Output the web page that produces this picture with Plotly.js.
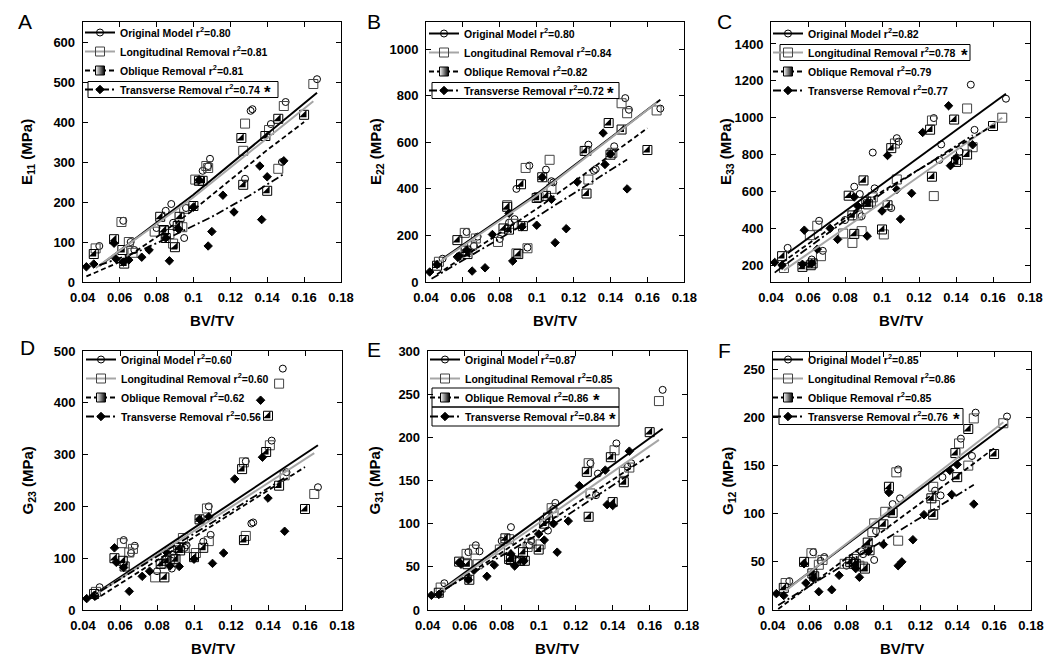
<!DOCTYPE html>
<html><head><meta charset="utf-8">
<script src="https://cdn.plot.ly/plotly-3.0.1.min.js"></script>
<style>html,body{margin:0;padding:0;background:#fff;}#chart{width:1050px;height:662px;}</style>
</head><body><div id="chart"></div>
<script>
// ---------------- DATA ----------------
const SERIES_NAMES = ["Original Model", "Longitudinal Removal", "Oblique Removal", "Transverse Removal"];
const XTICK_VALS = [0.04, 0.06, 0.08, 0.1, 0.12, 0.14, 0.16, 0.18];
const XTICK_TEXT = ["0.04", "0.06", "0.08", "0.1", "0.12", "0.14", "0.16", "0.18"];

// BV/TV of each specimen for each model
const BV_ORIG  = [0.049, 0.062, 0.066, 0.068, 0.080, 0.085, 0.088, 0.089, 0.095, 0.096, 0.105, 0.108, 0.109, 0.128, 0.131, 0.132, 0.142, 0.148, 0.150, 0.167];
const BV_LONG  = [0.047, 0.061, 0.065, 0.067, 0.079, 0.084, 0.087, 0.089, 0.094, 0.095, 0.101, 0.107, 0.108, 0.127, 0.128, 0.141, 0.146, 0.149, 0.165];
const BV_OBL   = [0.046, 0.057, 0.0615, 0.0625, 0.082, 0.084, 0.085, 0.090, 0.0915, 0.0925, 0.100, 0.103, 0.105, 0.126, 0.127, 0.139, 0.140, 0.146, 0.160];
const BV_TRANS = [0.042, 0.046, 0.057, 0.058, 0.062, 0.065, 0.072, 0.076, 0.085, 0.087, 0.092, 0.100, 0.103, 0.108, 0.110, 0.116, 0.122, 0.136, 0.137, 0.140, 0.149];

// E11 (MPa)
const E11_ORIG  = [90, 153, 100, 80, 135, 178, 195, 148, 110, 185, 278, 290, 308, 258, 428, 432, 395, 300, 450, 507];
const E11_LONG  = [84, 150, 100, 73, 126, 128, 120, 96, 137, 183, 256, 290, 285, 328, 396, 380, 283, 440, 495];
const E11_OBL   = [70, 107, 80, 46, 163, 130, 110, 87, 140, 163, 190, 253, 253, 360, 243, 365, 228, 408, 418];
const E11_TRANS = [38, 45, 97, 58, 50, 55, 62, 80, 110, 53, 132, 187, 255, 90, 126, 217, 175, 290, 156, 263, 303];
const E11_FIT_ORIG  = [[0.049, 40], [0.1, 218], [0.167, 473]];
const E11_FIT_LONG  = [[0.047, 35], [0.1, 212], [0.165, 452]];
const E11_FIT_OBL   = [[0.042, 14], [0.06, 50], [0.08, 112], [0.1, 180], [0.12, 255], [0.14, 330], [0.16, 400]];
const E11_FIT_TRANS = [[0.049, 42], [0.07, 76], [0.09, 118], [0.11, 163], [0.13, 215], [0.149, 270]];
const E11_R2 = ["0.80", "0.81", "0.81", "0.74"];
const E11_YTICKS = [0, 100, 200, 300, 400, 500, 600];

// E22 (MPa)
const E22_ORIG  = [100, 215, 155, 195, 185, 255, 270, 400, 148, 500, 483, 433, 428, 590, 478, 485, 583, 790, 740, 745];
const E22_LONG  = [87, 211, 157, 187, 172, 330, 250, 123, 490, 145, 365, 525, 400, 563, 440, 555, 768, 725, 737];
const E22_OBL   = [70, 180, 135, 120, 230, 323, 225, 120, 420, 240, 361, 450, 370, 563, 380, 683, 547, 655, 567];
const E22_TRANS = [43, 75, 108, 112, 137, 47, 61, 204, 295, 90, 237, 244, 450, 355, 169, 229, 430, 640, 505, 550, 400];
const E22_FIT_ORIG  = [[0.049, 100], [0.1, 378], [0.167, 783]];
const E22_FIT_LONG  = [[0.047, 85], [0.1, 372], [0.165, 770]];
const E22_FIT_OBL   = [[0.046, 33], [0.1, 314], [0.16, 661]];
const E22_FIT_TRANS = [[0.043, 14], [0.1, 280], [0.149, 526]];
const E22_R2 = ["0.80", "0.84", "0.82", "0.72"];
const E22_YTICKS = [0, 200, 400, 600, 800, 1000];

// E33 (MPa)
const E33_ORIG  = [294, 231, 441, 278, 445, 626, 586, 466, 811, 617, 510, 889, 870, 998, 771, 855, 816, 1179, 934, 1103];
const E33_LONG  = [185, 363, 414, 249, 372, 321, 470, 385, 545, 568, 367, 860, 665, 985, 575, 770, 1050, 840, 1000];
const E33_OBL   = [249, 191, 200, 210, 577, 470, 370, 660, 545, 530, 394, 525, 835, 935, 680, 990, 760, 800, 955];
const E33_TRANS = [215, 200, 205, 390, 210, 287, 400, 340, 570, 520, 358, 494, 795, 610, 450, 590, 920, 1065, 740, 782, 853];
const E33_FIT_ORIG  = [[0.049, 265], [0.167, 1130]];
const E33_FIT_LONG  = [[0.047, 172], [0.1, 540], [0.165, 1000]];
const E33_FIT_OBL   = [[0.046, 215], [0.1, 600], [0.16, 958]];
const E33_FIT_TRANS = [[0.042, 160], [0.1, 590], [0.149, 905]];
const E33_R2 = ["0.82", "0.78", "0.79", "0.77"];
const E33_YTICKS = [200, 400, 600, 800, 1000, 1200, 1400];

// G23 (MPa)
const G23_ORIG  = [44, 135, 110, 124, 75, 100, 80, 107, 120, 125, 132, 200, 145, 287, 167, 169, 327, 466, 266, 237];
const G23_LONG  = [35, 129, 111, 118, 63, 90, 97, 99, 139, 120, 110, 196, 133, 285, 143, 318, 437, 260, 224];
const G23_OBL   = [31, 100, 95, 84, 89, 63, 95, 98, 120, 115, 102, 175, 120, 272, 135, 305, 375, 240, 195];
const G23_TRANS = [22, 28, 120, 92, 82, 36, 65, 75, 112, 85, 84, 98, 175, 180, 90, 110, 253, 405, 295, 216, 152];
const G23_FIT_ORIG  = [[0.049, 37], [0.167, 318]];
const G23_FIT_LONG  = [[0.047, 30], [0.165, 303]];
const G23_FIT_OBL   = [[0.046, 19], [0.16, 276]];
const G23_FIT_TRANS = [[0.042, 20], [0.149, 255]];
const G23_R2 = ["0.60", "0.60", "0.62", "0.56"];
const G23_YTICKS = [0, 100, 200, 300, 400, 500];

// G31 (MPa)
const G31_ORIG  = [31, 67, 75, 68, 80, 96, 57, 57, 75, 80, 92, 117, 124, 170, 133, 158, 193, 166, 170, 255];
const G31_LONG  = [26, 65, 70, 53, 70, 82, 57, 57, 73, 77, 76, 118, 113, 170, 135, 185, 160, 165, 242];
const G31_OBL   = [20, 56, 53, 35, 83, 59, 58, 57, 67, 57, 70, 100, 107, 160, 108, 177, 125, 148, 206];
const G31_TRANS = [17, 18, 55, 53, 35, 46, 39, 52, 65, 51, 57, 88, 81, 100, 67, 103, 144, 162, 122, 121, 184];
const G31_FIT_ORIG  = [[0.049, 26], [0.167, 210]];
const G31_FIT_LONG  = [[0.047, 22], [0.165, 197]];
const G31_FIT_OBL   = [[0.046, 19], [0.16, 179]];
const G31_FIT_TRANS = [[0.042, 15], [0.1, 88], [0.149, 157]];
const G31_R2 = ["0.87", "0.85", "0.86", "0.84"];
const G31_YTICKS = [0, 50, 100, 150, 200, 250, 300];

// G12 (MPa)
const G12_ORIG  = [30, 60, 51, 55, 46, 57, 61, 58, 52, 82, 110, 146, 116, 124, 119, 138, 178, 160, 205, 201];
const G12_LONG  = [28, 59, 47, 52, 48, 53, 46, 45, 81, 90, 102, 143, 72, 128, 109, 173, 150, 199, 194];
const G12_OBL   = [23, 50, 38, 35, 50, 48, 48, 43, 70, 62, 89, 128, 101, 116, 99, 163, 138, 188, 162];
const G12_TRANS = [17, 15, 48, 28, 33, 19, 21, 36, 43, 34, 61, 68, 122, 46, 50, 73, 99, 145, 120, 151, 110];
const G12_FIT_ORIG  = [[0.048, 22], [0.167, 193]];
const G12_FIT_LONG  = [[0.047, 20], [0.165, 195]];
const G12_FIT_OBL   = [[0.043, 1], [0.16, 168]];
const G12_FIT_TRANS = [[0.043, 5], [0.149, 130]];
const G12_R2 = ["0.85", "0.86", "0.85", "0.76"];
const G12_YTICKS = [0, 50, 100, 150, 200, 250];

// ---------------- LAYOUT / STYLE ----------------
const W = 1050, H = 662;
const px = v => v / W, py = v => 1 - v / H;
const FONT = 'Liberation Sans, Arial, sans-serif';
const LEG_FONT = 'Liberation Sans, Arial, sans-serif';
const ROW0 = 14.5, ROWH = 19;

const PANELS = [
  {letter:'A', ylab:'E', sub:'11', ys:[E11_ORIG,E11_LONG,E11_OBL,E11_TRANS], fits:[E11_FIT_ORIG,E11_FIT_LONG,E11_FIT_OBL,E11_FIT_TRANS], r2:E11_R2, ytv:E11_YTICKS,
   xd:[82.7,341], yd:[22,282], yr:[0,650], leg:[80,18], ttlX:28, xTtlY:320, let:[25,21], boxes:[{rows:[3], x:[88,278]}], stars:[{row:3, x:267}]},
  {letter:'B', ylab:'E', sub:'22', ys:[E22_ORIG,E22_LONG,E22_OBL,E22_TRANS], fits:[E22_FIT_ORIG,E22_FIT_LONG,E22_FIT_OBL,E22_FIT_TRANS], r2:E22_R2, ytv:E22_YTICKS,
   xd:[426,684.3], yd:[22,282], yr:[0,1117], leg:[424,19], ttlX:377, xTtlY:320, let:[374,21], boxes:[{rows:[3], x:[432,619]}], stars:[{row:3, x:610}]},
  {letter:'C', ylab:'E', sub:'33', ys:[E33_ORIG,E33_LONG,E33_OBL,E33_TRANS], fits:[E33_FIT_ORIG,E33_FIT_LONG,E33_FIT_OBL,E33_FIT_TRANS], r2:E33_R2, ytv:E33_YTICKS,
   xd:[771,1030], yd:[22,282], yr:[109,1519], leg:[768,19], ttlX:727, xTtlY:320, let:[724,21], boxes:[{rows:[1], x:[780,970]}], stars:[{row:1, x:964}]},
  {letter:'D', ylab:'G', sub:'23', ys:[G23_ORIG,G23_LONG,G23_OBL,G23_TRANS], fits:[G23_FIT_ORIG,G23_FIT_LONG,G23_FIT_OBL,G23_FIT_TRANS], r2:G23_R2, ytv:G23_YTICKS,
   xd:[83,342], yd:[351,610], yr:[0,500], leg:[81,345], ttlX:28, xTtlY:648, let:[27,348], boxes:[], stars:[]},
  {letter:'E', ylab:'G', sub:'31', ys:[G31_ORIG,G31_LONG,G31_OBL,G31_TRANS], fits:[G31_FIT_ORIG,G31_FIT_LONG,G31_FIT_OBL,G31_FIT_TRANS], r2:G31_R2, ytv:G31_YTICKS,
   xd:[427.7,686.7], yd:[351,610], yr:[0,300], leg:[425,345], ttlX:375, xTtlY:648, let:[374,349], boxes:[{rows:[2,3], x:[432,619]}], stars:[{row:2, x:596},{row:3, x:612}]},
  {letter:'F', ylab:'G', sub:'12', ys:[G12_ORIG,G12_LONG,G12_OBL,G12_TRANS], fits:[G12_FIT_ORIG,G12_FIT_LONG,G12_FIT_OBL,G12_FIT_TRANS], r2:G12_R2, ytv:G12_YTICKS,
   xd:[772.7,1031], yd:[352,610], yr:[0,268], leg:[768,345], ttlX:728, xTtlY:648, let:[724,350], boxes:[{rows:[3], x:[779,963]}], stars:[{row:3, x:956}]}
];

const XS = [BV_ORIG, BV_LONG, BV_OBL, BV_TRANS];
const STY = [
  {sym:'circle-open', size:7, mcol:'#000', lcol:'#000', dash:'solid', lw:2},
  {sym:'square-open', size:9, mcol:'#444', lcol:'#a6a6a6', dash:'solid', lw:2},
  {sym:'square-open', size:9, mcol:'#000', lcol:'#000', dash:'5px,3px', lw:1.8},
  {sym:'diamond', size:6.5, mcol:'#000', lcol:'#000', dash:'8px,3px,2px,3px', lw:1.8}
];

const traces = [];
const layout = {width:W, height:H, margin:{l:0,r:0,t:0,b:0}, paper_bgcolor:'#fff', plot_bgcolor:'#fff',
  showlegend:true, shapes:[], annotations:[], font:{family:FONT, color:'#000'}};

PANELS.forEach((p, i) => {
  const n = i + 1;
  const xa = n === 1 ? 'x' : 'x' + n, ya = n === 1 ? 'y' : 'y' + n;
  const xk = n === 1 ? 'xaxis' : 'xaxis' + n, yk = n === 1 ? 'yaxis' : 'yaxis' + n;
  const lg = n === 1 ? 'legend' : 'legend' + n;

  for (let s = 0; s < 4; s++) {
    const st = STY[s];
    traces.push({type:'scatter', mode:'markers', x:XS[s], y:p.ys[s], xaxis:xa, yaxis:ya, showlegend:false, hoverinfo:'skip',
      marker:{symbol:st.sym, size:st.size, color:st.mcol, line:{width:1, color:st.mcol}}});
    if (s === 2) {
      traces.push({type:'scatter', mode:'markers', x:XS[s], y:p.ys[s], xaxis:xa, yaxis:ya, showlegend:false, hoverinfo:'skip',
        marker:{symbol:'triangle-se', size:8, color:'#000', line:{width:0}}});
    }
  }
  for (let s = 0; s < 4; s++) {
    const st = STY[s];
    traces.push({type:'scatter', mode:'lines', x:p.fits[s].map(d => d[0]), y:p.fits[s].map(d => d[1]), xaxis:xa, yaxis:ya,
      showlegend:false, hoverinfo:'skip', line:{color:st.lcol, width:st.lw, dash:st.dash}});
  }
  for (let s = 0; s < 4; s++) {
    const st = STY[s];
    traces.push({type:'scatter', mode:'lines+markers', x:[null], y:[null], xaxis:xa, yaxis:ya, legend:lg,
      name: SERIES_NAMES[s] + ' r<sup>2</sup>=' + p.r2[s],
      marker: s === 2 ? {symbol:'square', size:st.size, color:'#fff', gradient:{type:'horizontal', color:'#000'}, line:{width:1, color:'#000'}}
                      : {symbol:st.sym, size:st.size, color:st.mcol, line:{width:1, color:st.mcol}},
      line:{color:st.lcol, width:st.lw, dash:st.dash}});
  }

  const axBase = {ticks:'inside', ticklen:5, tickwidth:1, tickcolor:'#000', showline:true, linecolor:'#000', linewidth:1,
    mirror:'ticks', showgrid:false, zeroline:false, fixedrange:true,
    tickfont:{family:FONT, size:13, color:'#000', weight:'bold'}};
  layout[xk] = Object.assign({}, axBase, {domain:[px(p.xd[0]), px(p.xd[1])], range:[0.04, 0.18],
    tickmode:'array', tickvals:XTICK_VALS, ticktext:XTICK_TEXT, anchor:ya, ticklabelstandoff:3});
  layout[yk] = Object.assign({}, axBase, {domain:[py(p.yd[1]), py(p.yd[0])], range:p.yr,
    tickmode:'array', tickvals:p.ytv, anchor:xa, ticklabelstandoff:4});

  layout[lg] = {x:px(p.leg[0]), y:py(p.leg[1]), xanchor:'left', yanchor:'top', bgcolor:'rgba(0,0,0,0)', borderwidth:0,
    font:{family:LEG_FONT, size:10.5, color:'#000', weight:'bold'}, itemwidth:30, tracegroupgap:0};

  const rowC = r => p.leg[1] + ROW0 + ROWH * r;
  p.boxes.forEach(b => {
    const half = b.rows.length > 1 ? 9.5 : 8;
    b.rows.forEach(r => {
      layout.shapes.push({type:'rect', xref:'paper', yref:'paper', x0:px(b.x[0]), x1:px(b.x[1]),
        y0:py(rowC(r) + half), y1:py(rowC(r) - half), line:{color:'#000', width:1}, fillcolor:'rgba(0,0,0,0)'});
    });
  });
  p.stars.forEach(st => {
    layout.annotations.push({xref:'paper', yref:'paper', x:px(st.x), y:py(rowC(st.row) + 3), text:'*', showarrow:false,
      xanchor:'center', yanchor:'middle', font:{family:FONT, size:17, color:'#000', weight:'bold'}});
  });

  layout.annotations.push({xref:'paper', yref:'paper', x:px(p.let[0]), y:py(p.let[1]), text:p.letter, showarrow:false,
    xanchor:'center', yanchor:'middle', font:{family:FONT, size:21, color:'#000'}});
  layout.annotations.push({xref:'paper', yref:'paper', x:px((p.xd[0] + p.xd[1]) / 2), y:py(p.xTtlY), text:'BV/TV', showarrow:false,
    xanchor:'center', yanchor:'middle', font:{family:FONT, size:15, color:'#000', weight:'bold'}});
  layout.annotations.push({xref:'paper', yref:'paper', x:px(p.ttlX), y:py((p.yd[0] + p.yd[1]) / 2), textangle:-90,
    text:p.ylab + '<sub>' + p.sub + '</sub> (MPa)', showarrow:false, xanchor:'center', yanchor:'middle',
    font:{family:FONT, size:15, color:'#000', weight:'bold'}});
});

Plotly.newPlot('chart', traces, layout, {staticPlot:true, displayModeBar:false, responsive:false});
</script></body></html>
